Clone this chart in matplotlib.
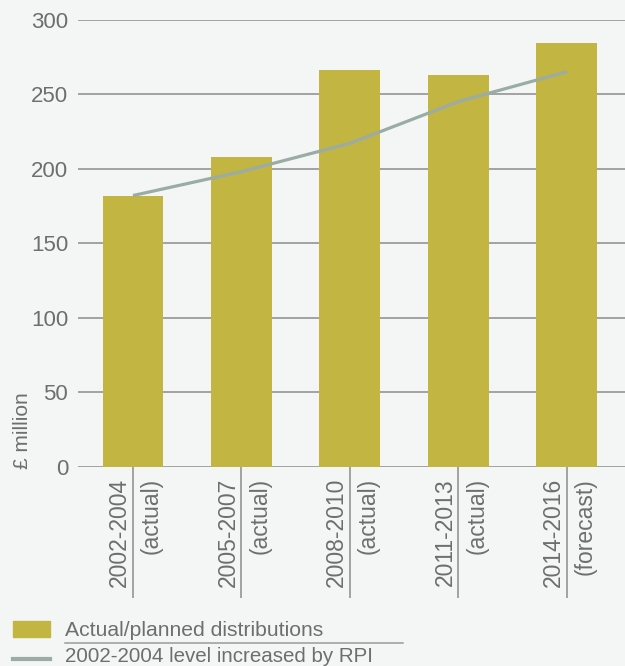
import matplotlib
matplotlib.use('Agg')
import matplotlib.pyplot as plt
from matplotlib.patches import Rectangle
from matplotlib.lines import Line2D
import numpy as np

# Data
periods = ['2002-2004', '2005-2007', '2008-2010', '2011-2013', '2014-2016']
status = ['(actual)', '(actual)', '(actual)', '(actual)', '(forecast)']
distributions = [182, 208, 266, 263, 284]
rpi_level = [182, 198, 217, 245, 265]
yticks = [0, 50, 100, 150, 200, 250, 300]

BG = '#f4f6f5'
BAR = '#c2b542'
LINE = '#9aaca4'
TEXT = '#6e6e6e'
GRID = '#8c8c8c'

plt.rcParams['font.family'] = ['Liberation Sans', 'DejaVu Sans']

W, H = 625, 666
fig = plt.figure(figsize=(W / 100, H / 100), dpi=100)
fig.patch.set_facecolor(BG)

# axes placed by pixel: left 78, right 625, top 19.5, bottom 467
ax = fig.add_axes([78 / W, 1 - 467 / H, (625 - 78) / W, (467 - 19.5) / H])
ax.set_facecolor(BG)

x = np.arange(len(periods))
ax.bar(x, distributions, width=0.562, color=BAR, zorder=2)
ax.plot(x, rpi_level, color=LINE, lw=2.3, zorder=3, solid_capstyle='butt')

ax.set_ylim(0, 300)
ax.set_xlim(-0.507, 4.535)
ax.set_yticks(yticks)
ax.yaxis.grid(True, color=GRID, lw=1.1, zorder=1)
ax.tick_params(axis='y', length=0, pad=7, labelsize=16, labelcolor=TEXT)

for s in ax.spines.values():
    s.set_visible(False)

# category ticks: long gray lines below the baseline
ax.set_xticks(x)
ax.set_xticklabels([])
ax.tick_params(axis='x', length=94, width=1.1, color=GRID, direction='out')

for i in range(len(periods)):
    ax.annotate(periods[i], xy=(x[i], 0), xycoords=('data', 'axes fraction'),
                xytext=(-1.5, -8), textcoords='offset points',
                rotation=90, ha='right', va='top', fontsize=16.5, color=TEXT)
    ax.annotate(status[i], xy=(x[i], 0), xycoords=('data', 'axes fraction'),
                xytext=(5, -8), textcoords='offset points',
                rotation=90, ha='left', va='top', fontsize=16.5, color=TEXT)

fig.text(23 / W, 1 - 469 / H, '£ million', rotation=90, ha='center', va='bottom',
         fontsize=15, color=TEXT)

# legend drawn by hand
fig.add_artist(Rectangle((13 / W, 1 - 637 / H), 37 / W, 16 / H,
                         transform=fig.transFigure, color=BAR))
fig.text(65 / W, 1 - 630 / H, 'Actual/planned distributions', ha='left', va='center',
         fontsize=15.2, color=TEXT)
fig.add_artist(Line2D([65 / W, 403 / W], [1 - 643 / H, 1 - 643 / H],
                      transform=fig.transFigure, color='#9a9a9a', lw=1.1))
fig.add_artist(Line2D([13 / W, 50 / W], [1 - 659 / H, 1 - 659 / H],
                      transform=fig.transFigure, color=LINE, lw=3))
fig.text(65 / W, 1 - 657 / H, '2002-2004 level increased by RPI', ha='left', va='center',
         fontsize=14.8, color=TEXT)

fig.savefig('out.png', dpi=100, facecolor=BG)
